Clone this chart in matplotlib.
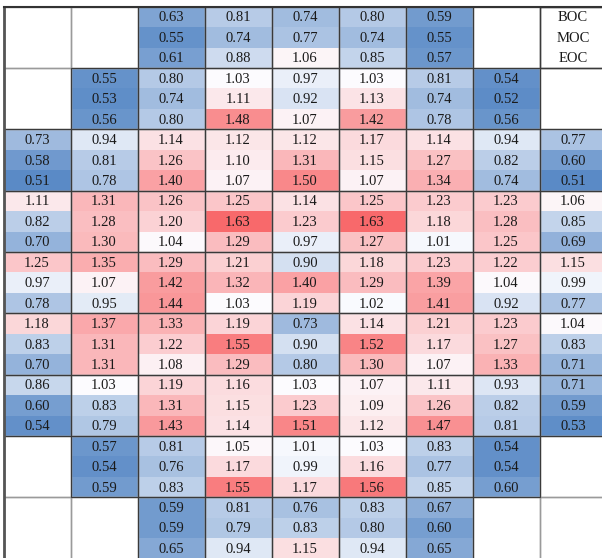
import numpy as np
import matplotlib.pyplot as plt
from matplotlib.colors import LinearSegmentedColormap, TwoSlopeNorm
from matplotlib.patches import Rectangle

plt.rcParams['font.family'] = ['Liberation Serif', 'DejaVu Serif']

# relative assembly power, 9x9 core map, three burnup steps per assembly
# rows given as (first column, values)
boc = [
    (2, [0.63, 0.81, 0.74, 0.80, 0.59]),
    (1, [0.55, 0.80, 1.03, 0.97, 1.03, 0.81, 0.54]),
    (0, [0.73, 0.94, 1.14, 1.12, 1.12, 1.17, 1.14, 0.94, 0.77]),
    (0, [1.11, 1.31, 1.26, 1.25, 1.14, 1.25, 1.23, 1.23, 1.06]),
    (0, [1.25, 1.35, 1.29, 1.21, 0.90, 1.18, 1.23, 1.22, 1.15]),
    (0, [1.18, 1.37, 1.33, 1.19, 0.73, 1.14, 1.21, 1.23, 1.04]),
    (0, [0.86, 1.03, 1.19, 1.16, 1.03, 1.07, 1.11, 0.93, 0.71]),
    (1, [0.57, 0.81, 1.05, 1.01, 1.03, 0.83, 0.54]),
    (2, [0.59, 0.81, 0.76, 0.83, 0.67]),
]
moc = [
    (2, [0.55, 0.74, 0.77, 0.74, 0.55]),
    (1, [0.53, 0.74, 1.11, 0.92, 1.13, 0.74, 0.52]),
    (0, [0.58, 0.81, 1.26, 1.10, 1.31, 1.15, 1.27, 0.82, 0.60]),
    (0, [0.82, 1.28, 1.20, 1.63, 1.23, 1.63, 1.18, 1.28, 0.85]),
    (0, [0.97, 1.07, 1.42, 1.32, 1.40, 1.29, 1.39, 1.04, 0.99]),
    (0, [0.83, 1.31, 1.22, 1.55, 0.90, 1.52, 1.17, 1.27, 0.83]),
    (0, [0.60, 0.83, 1.31, 1.15, 1.23, 1.09, 1.26, 0.82, 0.59]),
    (1, [0.54, 0.76, 1.17, 0.99, 1.16, 0.77, 0.54]),
    (2, [0.59, 0.79, 0.83, 0.80, 0.60]),
]
eoc = [
    (2, [0.61, 0.88, 1.06, 0.85, 0.57]),
    (1, [0.56, 0.80, 1.48, 1.07, 1.42, 0.78, 0.56]),
    (0, [0.51, 0.78, 1.40, 1.07, 1.50, 1.07, 1.34, 0.74, 0.51]),
    (0, [0.70, 1.30, 1.04, 1.29, 0.97, 1.27, 1.01, 1.25, 0.69]),
    (0, [0.78, 0.95, 1.44, 1.03, 1.19, 1.02, 1.41, 0.92, 0.77]),
    (0, [0.70, 1.31, 1.08, 1.29, 0.80, 1.30, 1.07, 1.33, 0.71]),
    (0, [0.54, 0.79, 1.43, 1.14, 1.51, 1.12, 1.47, 0.81, 0.53]),
    (1, [0.59, 0.83, 1.55, 1.17, 1.56, 0.85, 0.60]),
    (2, [0.65, 0.94, 1.15, 0.94, 0.65]),
]
steps = ['BOC', 'MOC', 'EOC']

n = 9
grid = np.full((3 * n, n), np.nan)
for k, data in enumerate([boc, moc, eoc]):
    for i, (c0, vals) in enumerate(data):
        grid[3 * i + k, c0:c0 + len(vals)] = vals

vals_all = grid[~np.isnan(grid)]
cmap = LinearSegmentedColormap.from_list('bwr_xl', ['#5A8AC6', '#FCFCFF', '#F8696B'])
norm = TwoSlopeNorm(vmin=vals_all.min(), vcenter=np.median(vals_all), vmax=vals_all.max())

fig = plt.figure(figsize=(6.02, 5.58), dpi=100)
ax = fig.add_axes([0, 0, 1, 1])
ax.pcolormesh(np.arange(n + 1), np.arange(3 * n + 1), np.ma.masked_invalid(grid),
              cmap=cmap, norm=norm)

for r in range(3 * n):
    for c in range(n):
        v = grid[r, c]
        if not np.isnan(v):
            ax.text(c + 0.5, r + 0.55, f'{v:.2f}', ha='center', va='center',
                    fontsize=10.5, color='#1a1a1a')

# grid lines: light for empty positions, dark around fuel assemblies
for i in range(n):
    for c in range(n):
        filled = not np.isnan(grid[3 * i, c])
        ax.add_patch(Rectangle((c, 3 * i), 1, 3, fill=False,
                               ec='#9a9a9a', lw=1.0, zorder=2))
for i in range(n):
    for c in range(n):
        if not np.isnan(grid[3 * i, c]):
            ax.add_patch(Rectangle((c, 3 * i), 1, 3, fill=False,
                                   ec='#3a3a3a', lw=0.8, zorder=3))

# legend cell in the top-right corner
ax.add_patch(Rectangle((8, 0), 1, 3, fill=False, ec='#3a3a3a', lw=1.0, zorder=3))
for k, s in enumerate(steps):
    ax.text(8.5, k + 0.55, s, ha='center', va='center', fontsize=10.5, color='#1a1a1a')

# outer frame
ax.plot([0, 0], [0, 3 * n], color='#555555', lw=2.0, zorder=4)
ax.plot([0, n], [0, 0], color='#333333', lw=1.5, zorder=4)

ax.set_xlim(-3.5 / 67, 598.5 / 67)
ax.set_ylim(3 * n - 0.03, -6.7 / 20.44)
ax.axis('off')

plt.savefig('out.png', dpi=100, facecolor='white')
